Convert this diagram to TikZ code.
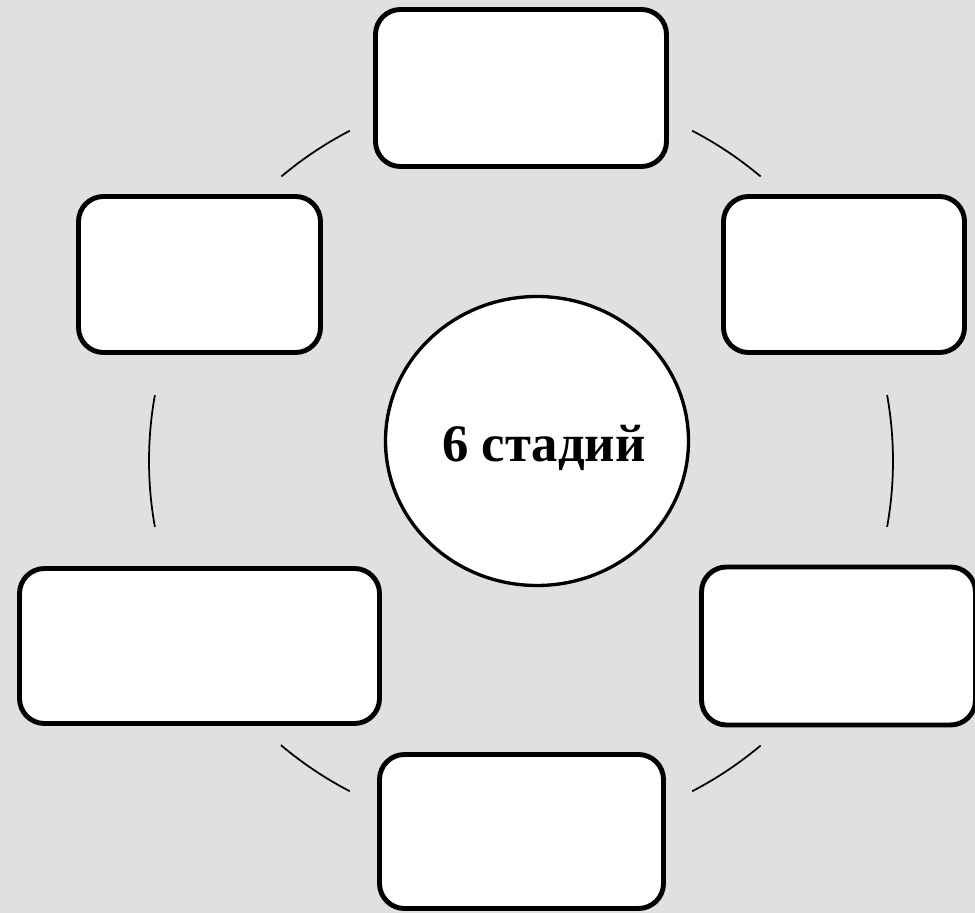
\documentclass[tikz,border=0pt]{standalone}
\usepackage{fontspec}
\setmainfont{Liberation Serif}
\usetikzlibrary{shapes.geometric}
\definecolor{slidegray}{RGB}{224,224,224}
\tikzset{
  stage/.style={draw=black, line width=2.8pt, fill=white, rounded corners=0.5cm,
    rectangle, inner sep=0pt},
  hubring/.style={draw=black, line width=1.9pt, fill=white, ellipse, inner sep=0pt,
    minimum width=6.06cm, minimum height=5.78cm},
  hubtext/.style={inner sep=0pt, font=\bfseries\fontsize{30}{34}\selectfont},
  link/.style={draw=black, line width=1pt}
}
\begin{document}
\begin{tikzpicture}
      \fill[slidegray] (0,0) rectangle (19.5,18.26);
      \useasboundingbox (0,0) rectangle (19.5,18.26);
      \clip (0,0) rectangle (19.5,18.26);
      % six stages
      \node[stage, minimum width=5.82cm, minimum height=3.14cm] (top) at (10.42,16.5) {};
      \node[stage, minimum width=4.84cm, minimum height=3.12cm] (upleft) at (3.99,12.77) {};
      \node[stage, minimum width=4.82cm, minimum height=3.12cm] (upright) at (16.88,12.77) {};
      \node[stage, minimum width=7.2cm, minimum height=3.1cm] (lowleft) at (3.99,5.34) {};
      \node[stage, minimum width=5.48cm, minimum height=3.16cm] (lowright) at (16.77,5.34) {};
      \node[stage, minimum width=5.68cm, minimum height=3.08cm] (bottom) at (10.43,1.63) {};
      % centre
      \node[hubring] (centre) at (10.74,9.44) {};
      \node[hubtext, anchor=base] (stages) at (10.88,9.02) {6 стадий};
      % ring between the stages
      \coordinate (ring) at (10.42,9.04);
      \foreach \a/\b in {117.4/130.1, 169.8/190.2, 229.8/242.6,
                         49.9/62.6, -10.2/10.2, -62.6/-49.9}
        \draw[link] (ring) ++(\a:7.44) arc (\a:\b:7.44);
    \end{tikzpicture}
\end{document}
